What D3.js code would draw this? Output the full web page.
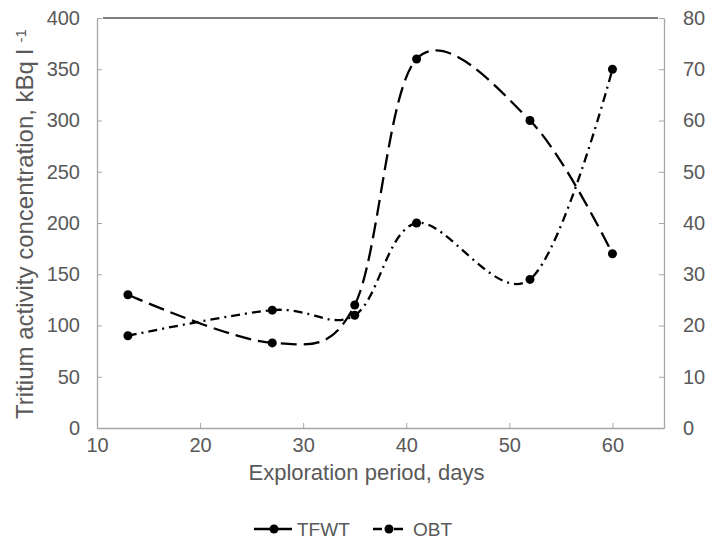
<!DOCTYPE html>
<html>
<head>
<meta charset="utf-8">
<script src="https://cdn.jsdelivr.net/npm/d3@7"></script>
<style>
  body { margin: 0; background: #fff; }
  svg text { font-family: "Liberation Sans", Arial, sans-serif; fill: #595959; }
</style>
</head>
<body>
<svg width="705" height="541"></svg>
<script>
// data
let days = [13, 27, 35, 41, 52, 60]
let tfwt = [130, 83, 120, 360, 300, 170]   // left axis, kBq l-1
let obt = [18, 23, 22, 40, 29, 70]         // right axis
let xTicks = [10, 20, 30, 40, 50, 60]
let yLeftTicks = [0, 50, 100, 150, 200, 250, 300, 350, 400]
let yRightTicks = [0, 10, 20, 30, 40, 50, 60, 70, 80]

let plotLeft = 97, plotRight = 664, plotTop = 18, plotBottom = 428
let axisColor = '#a6a6a6'

let svg = d3.select('svg')

let xScale = d3.scaleLinear().domain([10, 65]).range([plotLeft, plotRight])
let yLeft = d3.scaleLinear().domain([0, 400]).range([plotBottom, plotTop])
let yRight = d3.scaleLinear().domain([0, 80]).range([plotBottom, plotTop])

// top border
svg.append('line')
    .attr('x1', plotLeft + 6).attr('x2', plotRight - 6)
    .attr('y1', plotTop).attr('y2', plotTop)
    .attr('stroke', '#000').attr('stroke-width', 1.2)

function styleAxis(g) {
  g.select('.domain').attr('stroke', axisColor).attr('stroke-width', 1.3)
  g.selectAll('.tick line').attr('stroke', axisColor)
  g.selectAll('.tick text').style('font-size', '20px')
}

svg.append('g')
    .attr('transform', `translate(0, ${plotBottom})`)
    .call(d3.axisBottom(xScale).tickValues(xTicks).tickSizeInner(-5).tickSizeOuter(0).tickPadding(10))
    .call(styleAxis)

svg.append('g')
    .attr('transform', `translate(${plotLeft}, 0)`)
    .call(d3.axisLeft(yLeft).tickValues(yLeftTicks).tickSizeInner(-5).tickSizeOuter(0).tickPadding(17))
    .call(styleAxis)

svg.append('g')
    .attr('transform', `translate(${plotRight}, 0)`)
    .call(d3.axisRight(yRight).tickValues(yRightTicks).tickSizeInner(-5).tickSizeOuter(0).tickPadding(19))
    .call(styleAxis)

let series = [
  { name: 'TFWT', values: tfwt, y: yLeft, dash: '16,7' },
  { name: 'OBT', values: obt, y: yRight, dash: '9,5,2,5' }
]

series.forEach(s => {
  let pts = days.map((d, i) => [xScale(d), s.y(s.values[i])])
  svg.append('path')
      .attr('d', d3.line().curve(d3.curveCardinal.tension(0))(pts))
      .attr('fill', 'none')
      .attr('stroke', '#000')
      .attr('stroke-width', 2.3)
      .attr('stroke-dasharray', s.dash)
  svg.append('g').selectAll('circle')
    .data(pts)
    .enter()
    .append('circle')
      .attr('cx', d => d[0])
      .attr('cy', d => d[1])
      .attr('r', 4.5)
      .attr('fill', '#000')
})

// axis titles
svg.append('text')
    .attr('x', (plotLeft + plotRight) / 2 - 14)
    .attr('y', 480)
    .style('text-anchor', 'middle')
    .style('font-size', '22px')
    .text('Exploration period, days')

let yt = svg.append('text')
    .attr('transform', 'rotate(-90)')
    .attr('x', -224)
    .attr('y', 33)
    .style('text-anchor', 'middle')
    .style('font-size', '24px')
yt.append('tspan').text('Tritium activity concentration, kBq l ')
yt.append('tspan').attr('dy', '-0.45em').style('font-size', '15px').text('-1')

// legend
let legend = svg.append('g')
let lx = [254, 373]
let ly = 529
series.forEach((s, i) => {
  let x0 = lx[i]
  let w = i === 0 ? 38 : 35
  let mid = i === 0 ? 20 : 16
  legend.append('line')
      .attr('x1', x0).attr('x2', x0 + w)
      .attr('y1', ly).attr('y2', ly)
      .attr('stroke', '#000').attr('stroke-width', 2.3)
      .attr('stroke-dasharray', s.dash)
  legend.append('circle')
      .attr('cx', x0 + mid).attr('cy', ly).attr('r', 4.5).attr('fill', '#000')
  legend.append('text')
      .attr('x', x0 + w + 5)
      .attr('y', ly)
      .attr('dy', '0.35em')
      .style('font-size', '19px')
      .text(s.name)
})
</script>
</body>
</html>
